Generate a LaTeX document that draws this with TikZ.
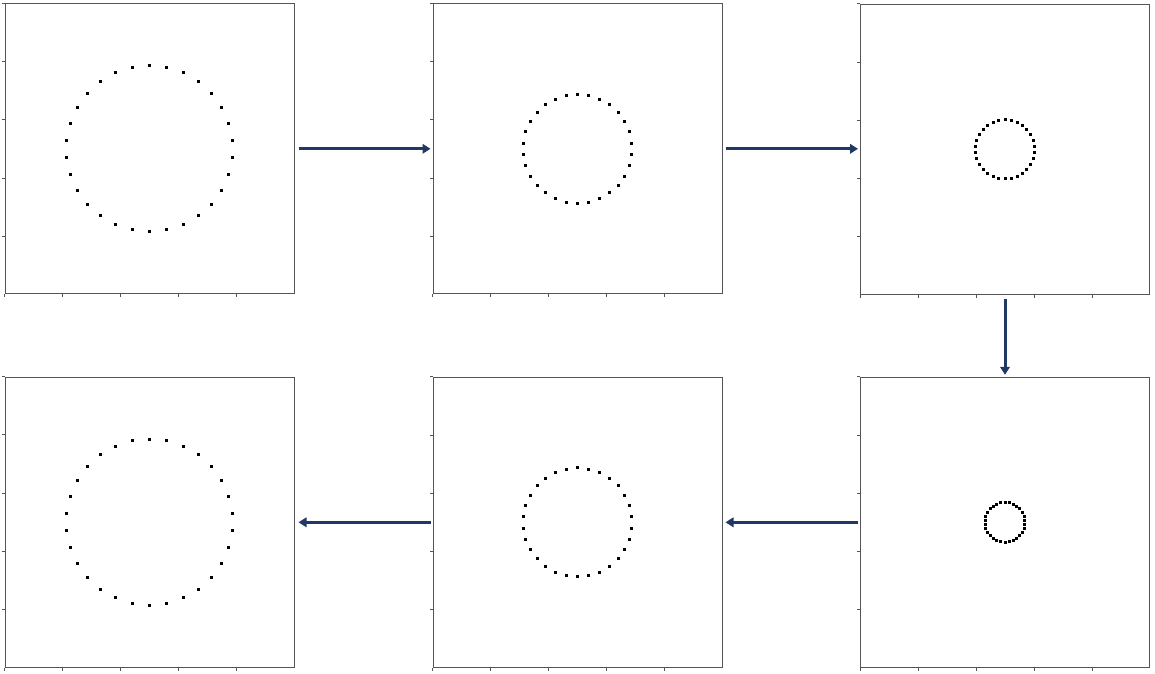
\documentclass[tikz,border=0pt]{standalone}
\usetikzlibrary{arrows.meta,calc}
\definecolor{navy}{RGB}{32,56,100}
\definecolor{frame}{RGB}{85,85,85}
\begin{document}
\begin{tikzpicture}[x=1pt,y=-1pt,
  panel/.style={draw=frame,line width=1pt,minimum width=289pt,minimum height=290pt,inner sep=0pt},
  link/.style={navy,line width=3pt,-{Triangle[length=8pt,width=9.5pt]}},
  tick/.style={frame,line width=0.8pt},
  pix/.style={fill=black}]
\useasboundingbox (0,0) rectangle (1155,673);
\node[panel] (p1) at (149.5,148.8) {};
\node[panel] (p2) at (577.5,148.8) {};
\node[panel] (p3) at (1005,149.3) {};
\node[panel] (p4) at (149.5,522) {};
\node[panel] (p5) at (577.5,522.3) {};
\node[panel] (p6) at (1005,522.3) {};
\foreach \p in {p1,p2,p3,p4,p5,p6}{
  \foreach \f in {0,0.2,0.4,0.6,0.8}{
    \draw[tick] ($(\p.north west)!\f!(\p.south west)$) -- ++(-3,0);
    \draw[tick] ($(\p.south west)!\f!(\p.south east)$) -- ++(0,3);
  }
}
\foreach \p/\r in {p1/83,p2/54.5,p3/29.5,p4/83,p5/54.5,p6/20}{
  \begin{scope}[shift={(\p.center)}]
    \foreach \k in {0,...,29}{
      \fill[pix] ({\r*cos(90+12*\k)-1.5},{\r*sin(90+12*\k)-1.5}) rectangle ++(3,3);
    }
  \end{scope}
}
\draw[link] ([xshift=4pt]p1.east) -- ([xshift=-2pt]p2.west);
\draw[link] ([xshift=3pt]p2.east) -- ([xshift=-2pt]p2.east -| p3.west);
\draw[link] ([yshift=-4pt]p3.south) -- ([yshift=2pt]p6.north);
\draw[link] ([xshift=-2pt]p6.west) -- ([xshift=3pt]p6.west -| p5.east);
\draw[link] ([xshift=-2pt]p5.west) -- ([xshift=4pt]p5.west -| p4.east);
\end{tikzpicture}
\end{document}
